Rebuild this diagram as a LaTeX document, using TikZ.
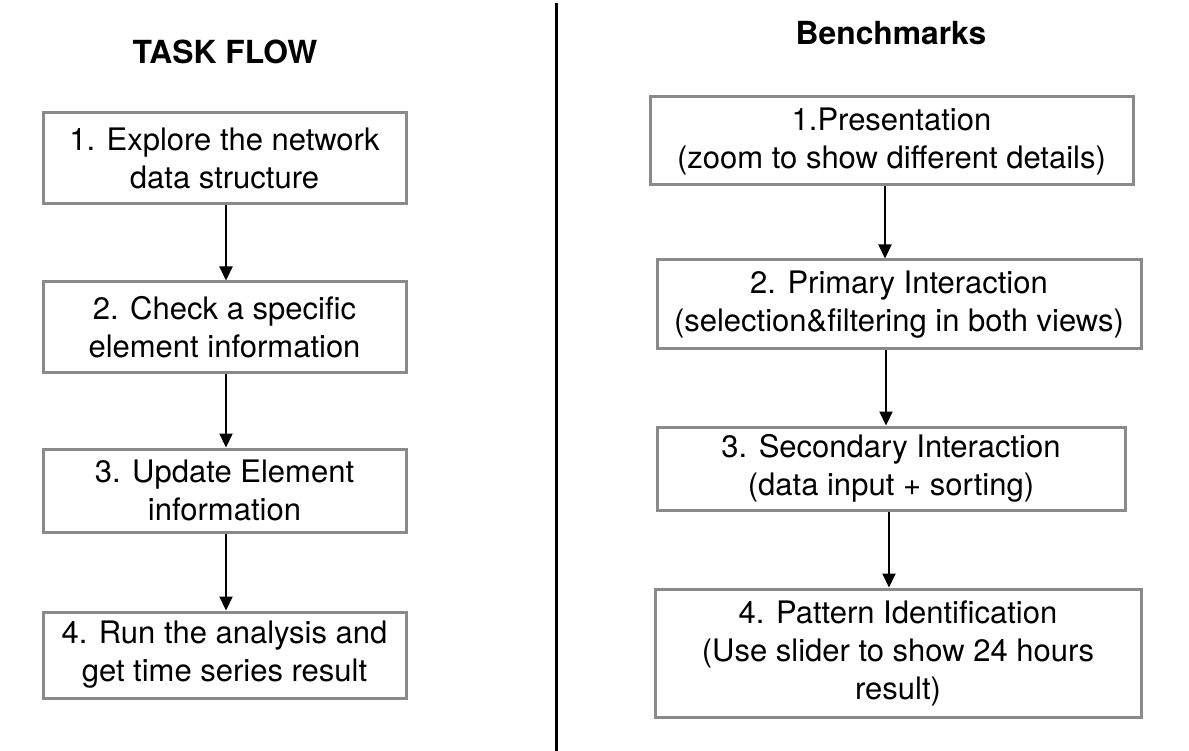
\documentclass[tikz,border=0pt]{standalone}
\usepackage{fontspec}
\setmainfont{TeX Gyre Heros}
\usetikzlibrary{arrows.meta}
\definecolor{boxgray}{HTML}{8A8A8A}
\tikzset{
  stepbox/.style={draw=boxgray, line width=3pt, fill=white, inner sep=0pt, align=center,
    font=\fontsize{31}{38}\selectfont, text=black},
  arr/.style={line width=2.2pt, -{Triangle[length=14pt,width=13pt]}},
  ttl/.style={font=\bfseries\fontsize{31.8}{36}\selectfont, inner sep=0pt}
}
\begin{document}
\begin{tikzpicture}[x=1pt,y=-1pt]
\useasboundingbox (0,0) rectangle (1189,751);
\fill[white] (0,0) rectangle (1189,751);
% divider
\coordinate (dtop) at (556,3);
\coordinate (dbot) at (556,751);
\draw[line width=3pt] (dtop) -- (dbot);
% titles
\node[ttl] (t1) at (225,52) {TASK FLOW};
\node[ttl] (t2) at (891,33) {Benchmarks};
% left boxes
\node[stepbox, minimum width=363pt, minimum height=91pt] (l1) at (224.5,158.5) {1. Explore the network\\data structure};
\node[stepbox, minimum width=363pt, minimum height=90pt] (l2) at (224.5,327) {2. Check a specific\\element information};
\node[stepbox, minimum width=363pt, minimum height=83pt] (l3) at (224.5,490.5) {3. Update Element\\information};
\node[stepbox, minimum width=363pt, minimum height=86pt] (l4) at (224.5,655) {4. Run the analysis and\\get time series result};
% right boxes
\node[stepbox, minimum width=483pt, minimum height=88pt] (r1) at (891.5,141) {1.Presentation\\(zoom to show different details)};
\node[stepbox, minimum width=484pt, minimum height=89pt] (r2) at (899,304.5) {2. Primary Interaction\\(selection\&filtering in both views)};
\node[stepbox, minimum width=468pt, minimum height=83pt] (r3) at (891,468.5) {3. Secondary Interaction\\(data input + sorting)};
\node[stepbox, minimum width=486pt, minimum height=128pt] (r4) at (898,653) {4. Pattern Identification\\(Use slider to show 24 hours\\result)};
% arrows
\draw[arr] (l1.south -| 226,0) -- (l2.north -| 226,0);
\draw[arr] (l2.south -| 226,0) -- (l3.north -| 226,0);
\draw[arr] (l3.south -| 226,0) -- (l4.north -| 226,0);
\draw[arr] (r1.south -| 885,0) -- (r2.north -| 885,0);
\draw[arr] (r2.south -| 886,0) -- (r3.north -| 886,0);
\draw[arr] (r3.south -| 889,0) -- (r4.north -| 889,0);
\end{tikzpicture}
\end{document}
